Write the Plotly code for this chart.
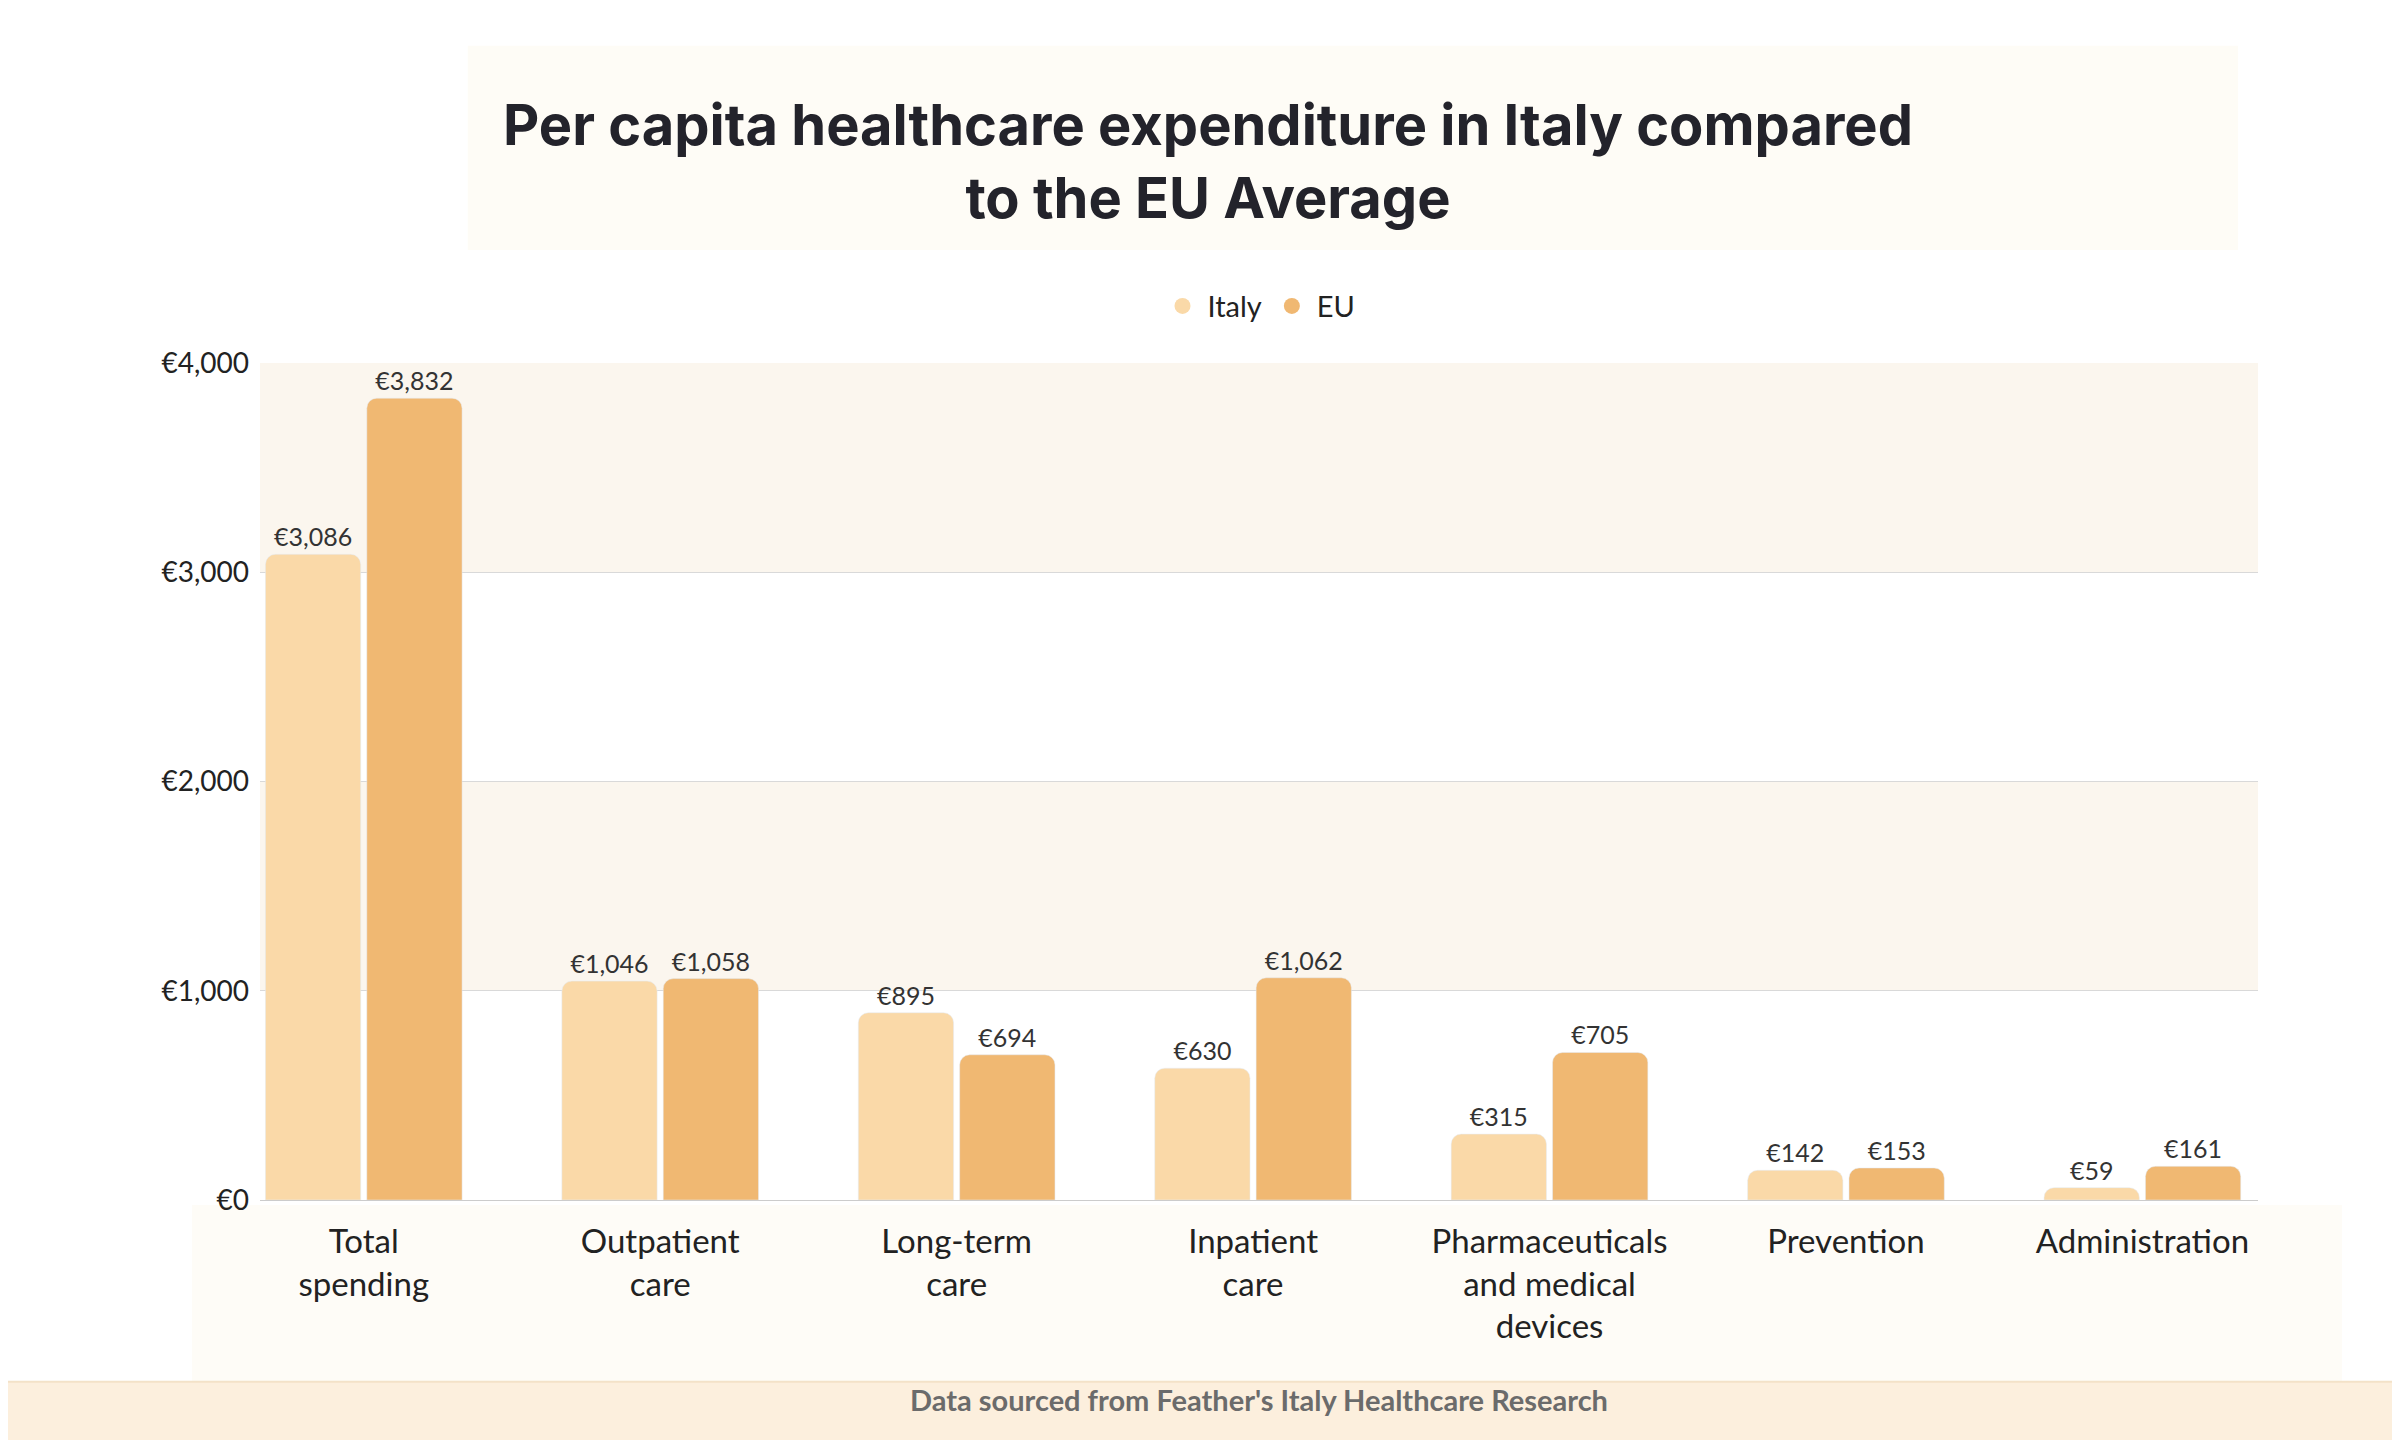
import plotly.graph_objects as go

categories = ["Total<br>spending", "Outpatient<br>care", "Long-term<br>care", "Inpatient<br>care",
              "Pharmaceuticals<br>and medical<br>devices", "Prevention", "Administration"]
italy = [3086, 1046, 895, 630, 315, 142, 59]
eu = [3832, 1058, 694, 1062, 705, 153, 161]
tick_vals = [0, 1000, 2000, 3000, 4000]
tick_text = ["€0", "€1,000", "€2,000", "€3,000", "€4,000"]

ITALY_COLOR = "#FAD9A8"
EU_COLOR = "#F0B872"
FONT = "Lato, Roboto, sans-serif"

fig = go.Figure()
for name, values, color in [("Italy", italy, ITALY_COLOR), ("EU", eu, EU_COLOR)]:
    fig.add_trace(go.Bar(
        x=categories, y=values, name=name, marker_color=color, marker_cornerradius=10,
        text=[f"€{v:,}" for v in values], textposition="outside", cliponaxis=False,
        textfont=dict(size=25, color="#333333", family=FONT), showlegend=False,
    ))
    # legend entries drawn as circles
    fig.add_trace(go.Scatter(
        x=[None], y=[None], mode="markers", name=name,
        marker=dict(color=color, size=30, symbol="circle"),
    ))

shapes = [
    # title box
    dict(type="rect", xref="paper", yref="paper", x0=0.104, x1=0.99, y0=1.135, y1=1.379,
         fillcolor="#FEFCF6", line_width=0, layer="below"),
    # category label area
    dict(type="rect", xref="paper", yref="paper", x0=-0.034, x1=1.042, y0=-0.006, y1=-0.217,
         fillcolor="#FEFCF7", line_width=0, layer="below"),
    # footer band
    dict(type="rect", xref="paper", yref="paper", x0=-0.131, x1=1.075, y0=-0.217, y1=-0.296,
         fillcolor="#FCEFDD", line=dict(color="#F3E2C8", width=2), layer="below"),
]
for lo, hi in [(3000, 4000), (1000, 2000)]:
    shapes.append(dict(type="rect", xref="paper", yref="y", x0=0, x1=1, y0=lo, y1=hi,
                       fillcolor="#FBF6EE", line_width=0, layer="below"))

fig.update_layout(
    width=2400, height=1440,
    paper_bgcolor="white", plot_bgcolor="white",
    margin=dict(l=252, r=150, t=355, b=248),
    barmode="group", bargap=0.316, bargroupgap=0.06,
    font=dict(family=FONT, color="#222222"),
    title=dict(text="<b>Per capita healthcare expenditure in Italy compared<br>to the EU Average</b>",
               x=0.5, xanchor="center", y=0.905, yanchor="middle",
               font=dict(size=56, family="Inter, sans-serif", color="#23232b")),
    legend=dict(orientation="h", x=0.5, xanchor="center", y=1.068, yanchor="middle",
                font=dict(size=29, family=FONT), itemwidth=40),
    shapes=shapes,
    annotations=[dict(text="<b>Data sourced from Feather's Italy Healthcare Research</b>",
                      xref="paper", yref="paper", x=0.5, y=-0.262, showarrow=False,
                      font=dict(size=29, color="#6b6b6b", family=FONT))],
)
fig.update_xaxes(range=[-0.35, 6.39], tickfont=dict(size=33, color="#222222"),
                 showline=True, linecolor="#cccccc", ticks="", fixedrange=True,
                 ticklabelstandoff=12)
fig.update_yaxes(range=[0, 4000], tickvals=tick_vals, ticktext=tick_text,
                 tickfont=dict(size=28, color="#222222"), gridcolor="#d9d9d9",
                 zeroline=False, ticks="", ticklabelstandoff=10)

fig.write_html("out.html")
